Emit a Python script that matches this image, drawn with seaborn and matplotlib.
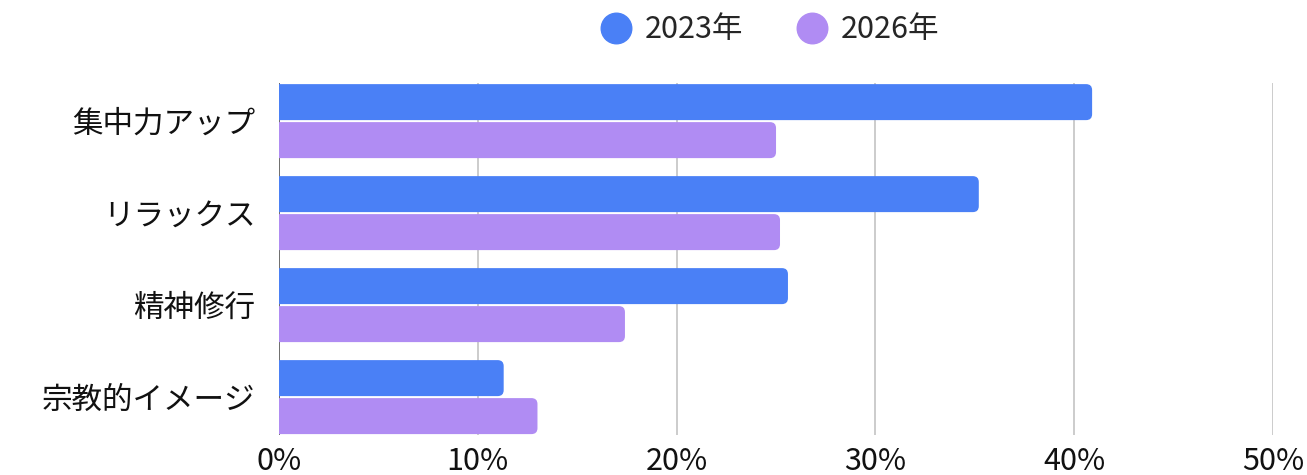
import matplotlib
matplotlib.use('Agg')
import matplotlib.pyplot as plt
from matplotlib.patches import FancyBboxPatch
from matplotlib.lines import Line2D
import pandas as pd
import seaborn as sns

categories = ['集中力アップ', 'リラックス', '精神修行', '宗教的イメージ']
years = ['2023年', '2026年']
values_2023 = [40.9, 35.2, 25.6, 11.3]
values_2026 = [25.0, 25.2, 17.4, 13.0]
colors = ['#4a80f6', '#b08cf3']

df = pd.DataFrame({
	'cat': categories * 2,
	'year': [years[0]] * 4 + [years[1]] * 4,
	'val': values_2023 + values_2026,
})

sns.set_style('white')
plt.rcParams['font.family'] = ['Noto Sans CJK JP', 'DejaVu Sans']

fig = plt.figure(figsize=(13.07, 4.75), dpi=100)
ax = fig.add_axes([0.2135, 0.084, 0.7605, 0.741])

sns.barplot(data=df, y='cat', x='val', hue='year', palette=colors,
			orient='h', width=0.826, ax=ax, legend=False, saturation=1)

# swap bars for ones with rounded right corners (left end clipped by axis)
px_x = 50 / (0.7605 * 1307)
px_y = 3.826 / (0.741 * 475)
r = 6 * px_x
bars = list(ax.patches)
for p in bars:
	x0, y0 = p.get_x(), p.get_y()
	w, h = p.get_width(), p.get_height()
	gap = 1.0 * px_y
	fb = FancyBboxPatch((x0 - 2, y0 + gap), w + 2, h - 2 * gap,
						boxstyle=f'round,pad=0,rounding_size={r}',
						mutation_aspect=px_y / px_x,
						facecolor=p.get_facecolor(), edgecolor='none',
						zorder=2, clip_on=True)
	p.remove()
	ax.add_patch(fb)

ax.set_xlim(0, 50)
ax.set_ylim(3.413, -0.413)
ax.set_xticks([0, 10, 20, 30, 40, 50])
ax.set_xticklabels([f'{t}%' for t in [0, 10, 20, 30, 40, 50]])
ax.grid(axis='x', color='#c8c8c8', linewidth=1.3, zorder=0)
ax.set_axisbelow(True)
ax.axvline(0, color='#666666', linewidth=1.3, zorder=1)
sns.despine(ax=ax, left=True, bottom=True)
ax.set_xlabel('')
ax.set_ylabel('')
ax.tick_params(axis='y', length=0, pad=17, labelsize=22, labelcolor='#111111')
ax.tick_params(axis='x', length=0, pad=8, labelsize=22, labelcolor='#111111')

handles = [Line2D([], [], marker='o', linestyle='none', markersize=22,
				  markerfacecolor=c, markeredgecolor=c) for c in colors]
fig.legend(handles, years, loc='center', bbox_to_anchor=(0.589, 0.937),
		   ncol=2, frameon=False, fontsize=22, handletextpad=0.45,
		   columnspacing=1.75, handlelength=1.0)

fig.savefig('out.png', dpi=100)
